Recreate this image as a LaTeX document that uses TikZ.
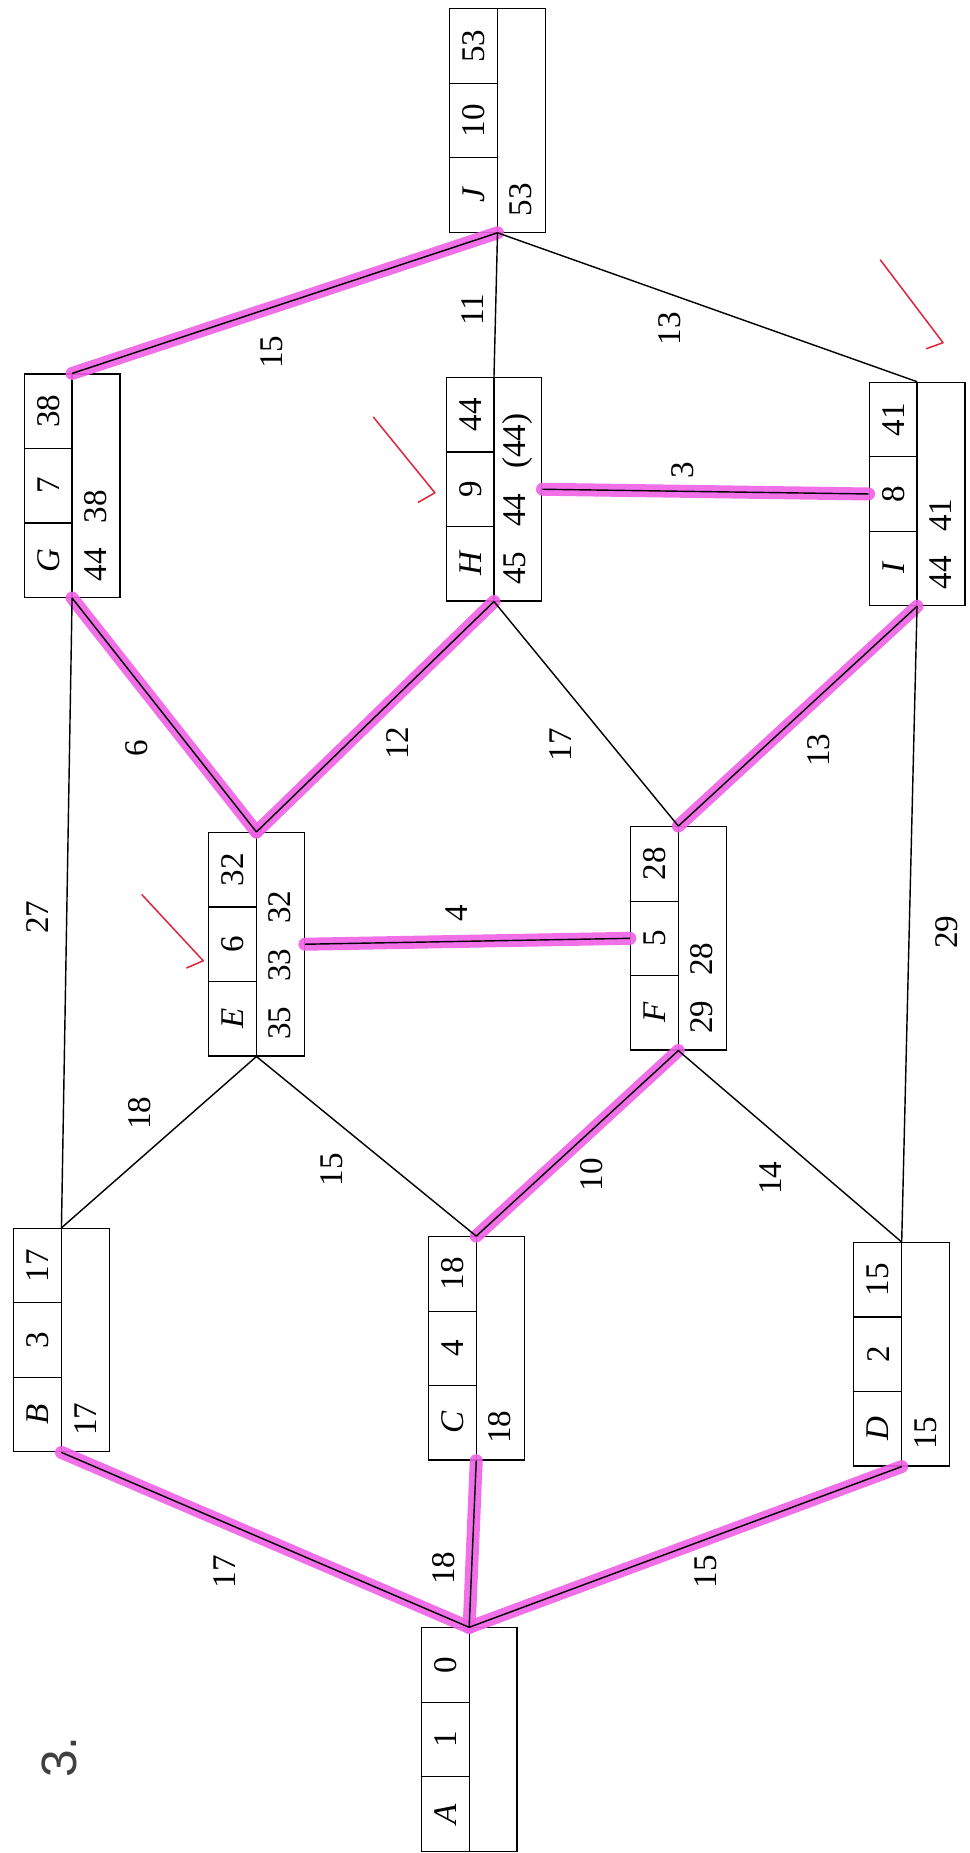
\documentclass[tikz,border=0pt]{standalone}
\usepackage{fontspec}
\setmainfont{Liberation Serif}
\newfontfamily\snum{Liberation Sans}
\usetikzlibrary{calc}
\definecolor{hlpink}{RGB}{240,96,230}
\definecolor{chkred}{RGB}{222,40,64}
\tikzset{
  tbox/.style={draw, line width=1pt, minimum width=81pt, minimum height=189pt, inner sep=0pt},
  cellline/.style={line width=1pt},
  celltxt/.style={rotate=90, inner sep=0pt, font=\fontsize{28}{32}\selectfont},
  bottxt/.style={rotate=90, anchor=west, inner sep=0pt, font=\fontsize{28}{32}\selectfont},
  elab/.style={rotate=90, inner sep=0pt, font=\fontsize{28}{32}\selectfont},
  edge/.style={line width=1.2pt},
  hl/.style={line width=11pt, draw=hlpink, opacity=0.9, line cap=round},
  chk/.style={draw=chkred, line width=1.3pt, line cap=round, line join=round}
}
\newcommand{\gp}{\hspace{0.75em}}
% #1 name, #2 cx, #3 cy, #4 letter, #5 duration, #6 earliest, #7 bottom row
\newcommand{\tskbox}[7]{%
  \node[tbox] (#1) at (#2,#3) {};
  \draw[cellline] (#1.north) -- (#1.south);
  \draw[cellline] (#2-40.5,#3-31.5) -- (#2,#3-31.5);
  \draw[cellline] (#2-40.5,#3+31.5) -- (#2,#3+31.5);
  \node[celltxt] (#1l) at (#2-20,#3+63) {\itshape #4};
  \node[celltxt] (#1d) at (#2-20,#3) {#5};
  \node[celltxt] (#1e) at (#2-20,#3-63) {#6};
  \node[bottxt] (#1b) at (#2+20,#3+81) {#7};
}
\begin{document}
\begin{tikzpicture}[x=1pt,y=-1pt]
\useasboundingbox (0,0) rectangle (820,1568);

% boxes
\tskbox{A}{397}{1472}{A}{1}{0}{}
\tskbox{B}{52}{1134}{B}{3}{17}{17}
\tskbox{C}{403}{1141}{C}{4}{18}{18}
\tskbox{D}{763}{1146}{D}{2}{15}{15}
\tskbox{E}{217}{799}{E}{6}{32}{35\gp33\gp32}
\tskbox{F}{574}{794}{F}{5}{28}{29\gp28}
\tskbox{G}{61}{411}{G}{7}{38}{44\gp38}
\tskbox{H}{418}{414}{H}{9}{44}{45\gp44\gp(44)}
\tskbox{I}{776}{418}{I}{8}{41}{44\gp41}
\tskbox{J}{421}{102}{J}{10}{53}{53}

% highlighted (critical) path
\draw[hl] (A.north) -- (B.south);
\draw[hl] (A.north) -- (C.south);
\draw[hl] (A.north) -- (D.south);
\draw[hl] (C.north) -- (F.south);
\draw[hl] (E.east) -- (F.west);
\draw[hl] (F.north) -- (I.south);
\draw[hl] (E.north) -- (G.south);
\draw[hl] (E.north) -- (H.south);
\draw[hl] (H.east) -- (I.west);
\draw[hl] (G.north) -- (J.south);

% connectors
\draw[edge] (A.north) -- (B.south);
\draw[edge] (A.north) -- (C.south);
\draw[edge] (A.north) -- (D.south);
\draw[edge] (B.north) -- (E.south);
\draw[edge] (B.north) -- (G.south);
\draw[edge] (C.north) -- (E.south);
\draw[edge] (C.north) -- (F.south);
\draw[edge] (D.north) -- (F.south);
\draw[edge] (D.north) -- (I.south);
\draw[edge] (E.north) -- (G.south);
\draw[edge] (E.north) -- (H.south);
\draw[edge] (E.east) -- (F.west);
\draw[edge] (F.north) -- (H.south);
\draw[edge] (F.north) -- (I.south);
\draw[edge] (G.north) -- (J.south);
\draw[edge] (H.north) -- (J.south);
\draw[edge] (I.north) -- (J.south);
\draw[edge] (H.east) -- (I.west);

% edge labels
\node[elab] (lAB) at (190,1330) {17};
\node[elab] (lAC) at (375,1327) {18};
\node[elab] (lAD) at (597,1330) {15};
\node[elab] (lBE) at (118,942) {18};
\node[elab] (lBG) at (32,776) {27};
\node[elab] (lCE) at (281,990) {15};
\node[elab] (lCF) at (501,994) {10};
\node[elab] (lDF) at (652,997) {14};
\node[elab] (lDI) at (801,789) {29};
\node[elab] (lEG) at (116,633) {6};
\node[elab] (lEH) at (336,629) {12};
\node[elab] (lEF) at (386,773) {4};
\node[elab] (lFH) at (474,630) {17};
\node[elab] (lFI) at (693,635) {13};
\node[elab] (lGJ) at (230,298) {15};
\node[elab] (lHJ) at (400,262) {11};
\node[elab] (lIJ) at (567,278) {13};
\node[elab] (lHI) at (578,398) {3};

% question number
\node[rotate=90, inner sep=0pt, text=black!75, font=\snum\fontsize{42}{46}\selectfont] (qnum) at (50,1487) {3.};

% red check marks
\draw[chk] (120,757) -- (172,813) -- (158,819);
\draw[chk] (316,353) -- (368,417) -- (354,425);
\draw[chk] (745,220) -- (798,290) -- (784,295);
\end{tikzpicture}
\end{document}
